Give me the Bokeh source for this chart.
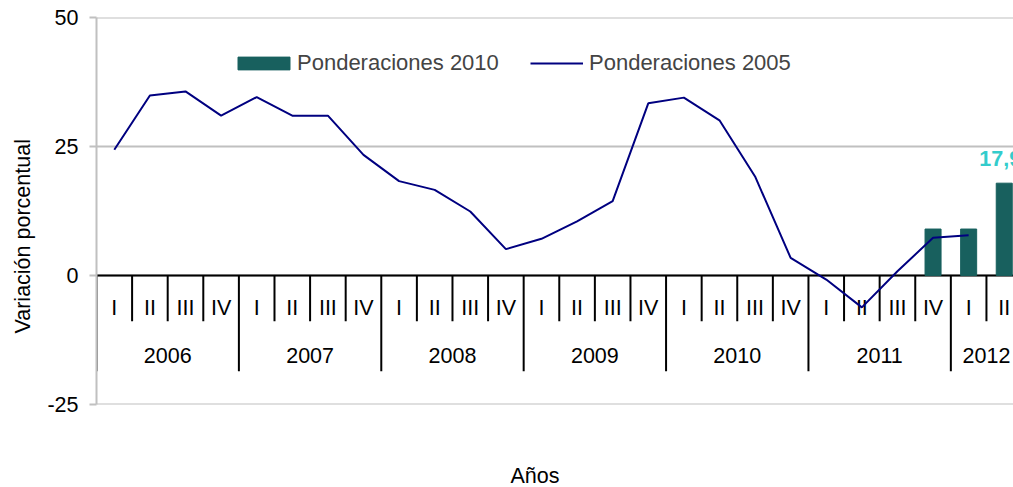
from bokeh.plotting import figure
from bokeh.models import Range1d, FixedTicker, Legend, LegendItem, Span, Title
from bokeh.embed import file_html
from bokeh.resources import INLINE
from bokeh.core.properties import value

# ---------------- data ----------------
years = ["2006", "2007", "2008", "2009", "2010", "2011", "2012"]
quarters_per_year = [4, 4, 4, 4, 4, 4, 2]
quarter_names = ["I", "II", "III", "IV"]

# Ponderaciones 2005 (line), 2006-I .. 2012-I
pond2005 = [24.4, 34.9, 35.7, 31.0,
            34.6, 31.0, 31.0, 23.4,
            18.3, 16.6, 12.4, 5.1,
            7.1, 10.5, 14.4, 33.4,
            34.5, 30.1, 19.2, 3.4,
            -0.8, -6.2, 0.8, 7.3,
            7.8]

# Ponderaciones 2010 (bars)
pond2010_periods = [("2011", "IV"), ("2012", "I"), ("2012", "II")]
pond2010 = [9.0, 9.0, 17.9]
labelled_period = ("2012", "II")

y_ticks = [-25, 0, 25, 50]
y_tick_labels = ["-25", "0", "25", "50"]

# ---------------- styles / layout constants ----------------
FONT = "Liberation Sans"
FS = "21.5px"
FS_LEG = "22px"
GRID = "#c0c0c0"
TEAL = "#18605e"
NAVY = "#000080"
CYAN = "#33cccc"
QTR_SEP_END = -8.9
YEAR_SEP_END = -18.6
QTR_LABEL_Y = -6.3
YEAR_LABEL_Y = -15.5

# ---------------- derived positions ----------------
periods = []
for yr, nq in zip(years, quarters_per_year):
    for q in quarter_names[:nq]:
        periods.append((yr, q))
idx = {pq: i for i, pq in enumerate(periods)}
centers = [i + 0.5 for i in range(len(periods))]

line_x = centers[:len(pond2005)]
bar_x = [idx[pq] + 0.5 for pq in pond2010_periods]

year_bounds = [0]
for nq in quarters_per_year:
    year_bounds.append(year_bounds[-1] + nq)
year_centers = [(a + b) / 2 for a, b in zip(year_bounds[:-1], year_bounds[1:])]

sep_x = list(range(len(periods) + 1))
sep_y1 = [YEAR_SEP_END if b in year_bounds else QTR_SEP_END for b in sep_x]

# ---------------- figure ----------------
p = figure(width=1013, height=487,
           x_range=Range1d(0, 25.76), y_range=Range1d(-25.05, 50.05),
           x_axis_location=None,
           output_backend="svg", toolbar_location=None,
           min_border_left=96, min_border_right=0,
           min_border_top=17, min_border_bottom=83)
p.outline_line_color = None
p.background_fill_color = "white"
p.border_fill_color = "white"

p.xgrid.visible = False
p.ygrid.ticker = FixedTicker(ticks=y_ticks)
p.ygrid.grid_line_color = GRID
p.ygrid.grid_line_width = 2

ax = p.yaxis[0]
ax.ticker = FixedTicker(ticks=y_ticks)
ax.major_label_overrides = {t: s for t, s in zip(y_ticks, y_tick_labels)}
ax.axis_line_color = GRID
ax.axis_line_width = 2
ax.major_tick_line_color = GRID
ax.major_tick_line_width = 2
ax.major_tick_out = 7
ax.major_tick_in = 0
ax.minor_tick_line_color = None
ax.major_label_standoff = 11
ax.major_label_text_font = FONT
ax.major_label_text_font_size = FS
ax.major_label_text_color = "black"

zero = Span(location=0, dimension="width", line_color="black",
            line_width=2, level="underlay")
p.add_layout(zero)

bars = p.vbar(x=bar_x, top=pond2010, width=0.45, color=TEAL)

p.segment(x0=sep_x, y0=[0] * len(sep_x), x1=sep_x, y1=sep_y1,
          line_color="black", line_width=2)

p.text(x=centers, y=[QTR_LABEL_Y] * len(centers), text=[q for _, q in periods],
       text_align="center", text_baseline="middle",
       text_font=value(FONT), text_font_size=FS, text_color="black")
p.text(x=year_centers, y=[YEAR_LABEL_Y] * len(year_centers), text=years,
       text_align="center", text_baseline="middle",
       text_font=value(FONT), text_font_size=FS, text_color="black")

line = p.line(x=line_x, y=pond2005, line_color=NAVY, line_width=2)

# value label for last bar
li = pond2010_periods.index(labelled_period)
p.text(x=[bar_x[li]], y=[pond2010[li]],
       text=[f"{pond2010[li]:.1f}".replace(".", ",")],
       text_align="center", text_baseline="alphabetic",
       x_offset=-4, y_offset=-25,
       text_font=value(FONT), text_font_size=FS, text_font_style="bold",
       text_color=CYAN)

# legends
leg1 = Legend(items=[LegendItem(label="Ponderaciones 2010", renderers=[bars])],
              location=(135, 328), orientation="horizontal",
              glyph_width=65, glyph_height=16, label_standoff=1,
              padding=0, margin=0, border_line_color=None,
              background_fill_alpha=0,
              label_text_font=FONT, label_text_font_size=FS_LEG)
leg2 = Legend(items=[LegendItem(label="Ponderaciones 2005", renderers=[line])],
              location=(434, 328), orientation="horizontal",
              glyph_width=53, glyph_height=16, label_standoff=6,
              padding=0, margin=0, border_line_color=None,
              background_fill_alpha=0,
              label_text_font=FONT, label_text_font_size=FS_LEG)
p.add_layout(leg1)
p.add_layout(leg2)

# axis titles
p.add_layout(Title(text="Variación porcentual", align="left", offset=71,
                   vertical_align="top", standoff=16,
                   text_font=FONT, text_font_size=FS,
                   text_font_style="normal", text_color="black"), "left")
# blank spacer (white) that pushes the x title down to the bottom edge
p.add_layout(Title(text=" ", standoff=31, text_font=FONT, text_font_size=FS,
                   text_color="white"), "below")
p.add_layout(Title(text="Años", align="left", offset=414, standoff=0,
                   text_font=FONT, text_font_size=FS,
                   text_font_style="normal", text_color="black"), "below")

open("out.html", "w").write(file_html(p, INLINE))
